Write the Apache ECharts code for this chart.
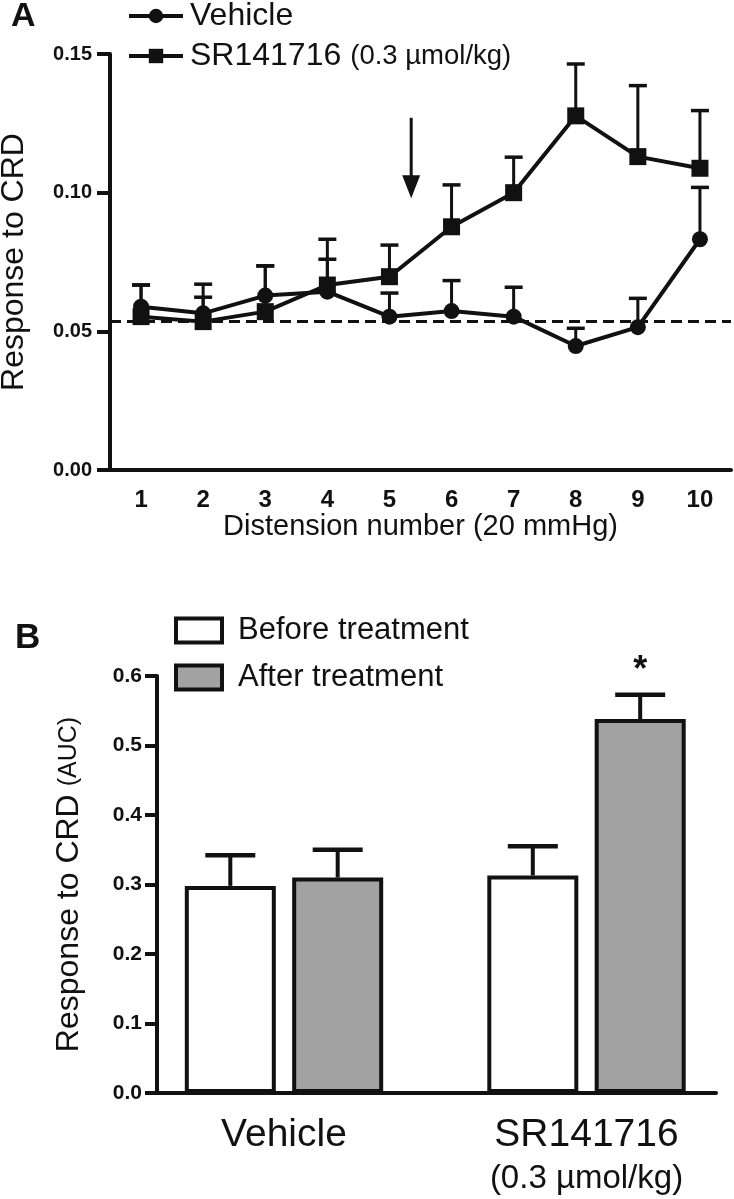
<!DOCTYPE html>
<html><head><meta charset="utf-8">
<script src="https://cdn.jsdelivr.net/npm/echarts@6/dist/echarts.min.js"></script>
<style>html,body{margin:0;padding:0;background:#fff}#c{width:734px;height:1199px}</style>
</head><body><div id="c"></div>
<script>
// ---------- Panel A data ----------
const distension = ['1','2','3','4','5','6','7','8','9','10'];
const vehicleMean = [0.0589, 0.0565, 0.0629, 0.0643, 0.0553, 0.0573, 0.0553, 0.0447, 0.0515, 0.0832];
const vehicleSem  = [0.0078, 0.0058, 0.0107, 0.0117, 0.0085, 0.0110, 0.0106, 0.0064, 0.0104, 0.0187];
const srMean = [0.0553, 0.0535, 0.0571, 0.0667, 0.0697, 0.0877, 0.1000, 0.1277, 0.1130, 0.1088];
const srSem  = [0.0114, 0.0135, 0.0165, 0.0165, 0.0114, 0.0151, 0.0128, 0.0187, 0.0256, 0.0208];
const baseline = 0.0535;
const yTicksA = [0, 0.05, 0.10, 0.15];
const arrowAt = 5.35;               // distension number where the arrow points
const arrowSpan = [0.127, 0.098];   // arrow top / tip (response units)

// ---------- Panel B data ----------
const groupsB = ['Vehicle', 'SR141716'];
const beforeMean = [0.298, 0.313];
const beforeSem  = [0.044, 0.042];
const afterMean  = [0.310, 0.538];
const afterSem   = [0.040, 0.035];
const afterSig   = ['', '*'];
const yTicksB = [0, 0.1, 0.2, 0.3, 0.4, 0.5, 0.6];

const INK = '#111';
const FONT = 'Liberation Sans, Arial, sans-serif';
const BAR_W = 91, BAR_GAP = 0.18;

function errA(params, api){
  const x = api.value(0);
  const p0 = api.coord([x, api.value(1)]), p1 = api.coord([x, api.value(2)]);
  const w = 9;
  return {type:'group', children:[
    {type:'line', shape:{x1:p0[0], y1:p0[1], x2:p1[0], y2:p1[1]}, style:{stroke:INK, lineWidth:3}},
    {type:'line', shape:{x1:p1[0]-w, y1:p1[1], x2:p1[0]+w, y2:p1[1]}, style:{stroke:INK, lineWidth:3.5}}
  ]};
}
function makeErrB(sign, sig){
  return function(params, api){
    const x = api.value(0);
    const off = sign * BAR_W * (1 + BAR_GAP) / 2;
    const p0 = api.coord([x, api.value(1)]), p1 = api.coord([x, api.value(2)]);
    const cx = p0[0] + off, w = 25;
    const ch = [
      {type:'line', shape:{x1:cx, y1:p0[1], x2:cx, y2:p1[1]}, style:{stroke:INK, lineWidth:4}},
      {type:'line', shape:{x1:cx-w, y1:p1[1], x2:cx+w, y2:p1[1]}, style:{stroke:INK, lineWidth:4.5}}
    ];
    const s = sig ? sig[params.dataIndex] : '';
    if (s) ch.push({type:'text', x:cx, y:p1[1]-24, style:{text:s, fill:INK, font:'bold 36px ' + FONT, align:'center', verticalAlign:'middle'}});
    return {type:'group', children:ch};
  };
}
function arrowItem(params, api){
  const idx = api.value(0), frac = api.value(3);
  const band = api.size([1, 0])[0];
  const p0 = api.coord([idx, api.value(1)]), p1 = api.coord([idx, api.value(2)]);
  const x = p0[0] + frac * band;
  const hh = 23, hw = 9;
  return {type:'group', children:[
    {type:'line', shape:{x1:x, y1:p0[1], x2:x, y2:p1[1]-hh+2}, style:{stroke:INK, lineWidth:3}},
    {type:'polygon', shape:{points:[[x-hw, p1[1]-hh],[x+hw, p1[1]-hh],[x, p1[1]]]}, style:{fill:INK}}
  ]};
}

const axisLine = {show:true, lineStyle:{color:INK, width:4}};
const chart = echarts.init(document.getElementById('c'));
chart.setOption({
  animation:false,
  textStyle:{fontFamily:FONT, color:INK},
  title:[
    {text:'A', left:6, top:-5, textStyle:{fontSize:34, fontWeight:'bold', color:INK, fontFamily:FONT}},
    {text:'B', left:10, top:616, textStyle:{fontSize:35, fontWeight:'bold', color:INK, fontFamily:FONT}}
  ],
  legend:[
    {data:['Vehicle'], left:122, top:-5, itemWidth:54, itemHeight:18, selectedMode:false,
     lineStyle:{width:4, color:INK}, itemStyle:{color:INK},
     textStyle:{fontSize:32, color:INK, padding:[0,0,0,2]}},
    {data:['SR141716'], left:122, top:35, itemWidth:54, itemHeight:18, selectedMode:false,
     lineStyle:{width:4, color:INK}, itemStyle:{color:INK},
     formatter:n => '{a|' + n + '}{b|(0.3 µmol/kg)}',
     textStyle:{color:INK, padding:[0,0,0,2], rich:{a:{fontSize:32, color:INK}, b:{fontSize:27.5, color:INK, padding:[0,0,0,9]}}}},
    {data:['Before treatment'], left:169, top:610, icon:'rect', itemWidth:46, itemHeight:24, selectedMode:false,
     itemStyle:{borderWidth:4, borderColor:INK},
     textStyle:{fontSize:31, color:INK, padding:[0,0,0,11]}},
    {data:['After treatment'], left:169, top:657, icon:'rect', itemWidth:46, itemHeight:24, selectedMode:false,
     itemStyle:{borderWidth:4, borderColor:INK},
     textStyle:{fontSize:31, color:INK, padding:[0,0,0,11]}}
  ],
  grid:[
    {left:110, top:54, width:621, height:416, containLabel:false, outerBoundsMode:'none'},
    {left:132.75, top:676, width:605, height:417, containLabel:false, outerBoundsMode:'none'},
    {left:157, top:676, width:559, height:417, containLabel:false, outerBoundsMode:'none'}
  ],
  xAxis:[
    {type:'category', gridIndex:0, data:distension, boundaryGap:true,
     axisLine:axisLine, axisTick:{alignWithLabel:true, length:12, lineStyle:{color:INK, width:4}},
     axisLabel:{fontSize:24, fontWeight:'bold', color:INK, margin:18},
     name:'Distension number (20 mmHg)', nameLocation:'middle', nameGap:42,
     nameTextStyle:{fontSize:29, color:INK}},
    {type:'category', gridIndex:1, data:groupsB, boundaryGap:true,
     axisLine:{show:false}, axisTick:{show:false},
     axisLabel:{color:INK, margin:20, interval:0,
       formatter:v => v === 'SR141716' ? '{a|SR141716}\n{b|(0.3 µmol/kg)}' : '{a|' + v + '}',
       rich:{a:{fontSize:39, lineHeight:44, color:INK}, b:{fontSize:33, lineHeight:44, color:INK}}}},
    {type:'value', gridIndex:2, min:0, max:1,
     axisLine:axisLine, axisTick:{show:false}, axisLabel:{show:false}, splitLine:{show:false}}
  ],
  yAxis:[
    {type:'value', gridIndex:0, min:yTicksA[0], max:yTicksA[yTicksA.length-1], interval:0.05,
     axisLine:axisLine, axisTick:{show:true, length:13, lineStyle:{color:INK, width:4}},
     axisLabel:{fontSize:20, fontWeight:'bold', color:INK, margin:18, formatter:v => v.toFixed(2)},
     splitLine:{show:false},
     name:'Response to CRD', nameLocation:'middle', nameGap:80, nameTextStyle:{fontSize:32, color:INK}},
    {type:'value', gridIndex:1, min:0, max:0.6, show:false, splitLine:{show:false}},
    {type:'value', gridIndex:2, min:yTicksB[0], max:yTicksB[yTicksB.length-1], interval:0.1,
     axisLine:axisLine, axisTick:{show:true, length:12, lineStyle:{color:INK, width:4}},
     axisLabel:{fontSize:21, fontWeight:'bold', color:INK, margin:15, formatter:v => v.toFixed(1)},
     splitLine:{show:false},
     name:'{a|Response to CRD}{b|(AUC)}', nameLocation:'middle', nameGap:72,
     nameTextStyle:{color:INK, rich:{a:{fontSize:32, color:INK}, b:{fontSize:25, color:INK, padding:[0,0,0,8]}}}}
  ],
  series:[
    {type:'custom', name:'vehErr', xAxisIndex:0, yAxisIndex:0, z:1, silent:true, clip:false,
     renderItem:errA, encode:{x:0, y:[1,2]},
     data:distension.map((c,i)=>[i, vehicleMean[i], vehicleMean[i]+vehicleSem[i]])},
    {type:'custom', name:'srErr', xAxisIndex:0, yAxisIndex:0, z:1, silent:true, clip:false,
     renderItem:errA, encode:{x:0, y:[1,2]},
     data:distension.map((c,i)=>[i, srMean[i], srMean[i]+srSem[i]])},
    {type:'line', name:'Vehicle', xAxisIndex:0, yAxisIndex:0, z:3, data:vehicleMean,
     symbol:'circle', symbolSize:16, color:INK, lineStyle:{color:INK, width:4}, itemStyle:{color:INK},
     markLine:{silent:true, precision:4, symbol:['none','none'], label:{show:false},
       lineStyle:{color:INK, width:3, type:[11,6]}, data:[{yAxis:baseline}]}},
    {type:'line', name:'SR141716', xAxisIndex:0, yAxisIndex:0, z:4, data:srMean,
     symbol:'rect', symbolSize:17, color:INK, lineStyle:{color:INK, width:4}, itemStyle:{color:INK}},
    {type:'custom', name:'arrow', xAxisIndex:0, yAxisIndex:0, z:2, silent:true, clip:false,
     renderItem:arrowItem, encode:{x:0, y:[1,2]},
     data:[[Math.floor(arrowAt)-1, arrowSpan[0], arrowSpan[1], arrowAt - Math.floor(arrowAt)]]},
    {type:'bar', name:'Before treatment', xAxisIndex:1, yAxisIndex:1, data:beforeMean,
     barWidth:BAR_W, barGap:(BAR_GAP*100)+'%', z:3,
     itemStyle:{color:'#ffffff', borderColor:INK, borderWidth:4}},
    {type:'bar', name:'After treatment', xAxisIndex:1, yAxisIndex:1, data:afterMean,
     barWidth:BAR_W, barGap:(BAR_GAP*100)+'%', z:3,
     itemStyle:{color:'#a2a2a2', borderColor:INK, borderWidth:4}},
    {type:'custom', name:'beforeErr', xAxisIndex:1, yAxisIndex:1, z:2, silent:true, clip:false,
     renderItem:makeErrB(-1, null), encode:{x:0, y:[1,2]},
     data:groupsB.map((g,i)=>[i, beforeMean[i], beforeMean[i]+beforeSem[i]])},
    {type:'custom', name:'afterErr', xAxisIndex:1, yAxisIndex:1, z:2, silent:true, clip:false,
     renderItem:makeErrB(1, afterSig), encode:{x:0, y:[1,2]},
     data:groupsB.map((g,i)=>[i, afterMean[i], afterMean[i]+afterSem[i]])}
  ]
});
</script></body></html>
